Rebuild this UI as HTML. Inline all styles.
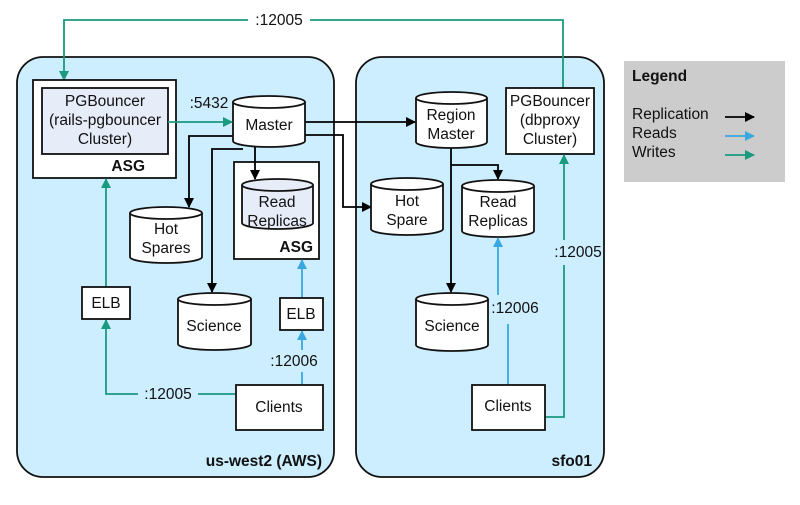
<!DOCTYPE html>
<html><head><meta charset="utf-8"><style>
html,body{margin:0;padding:0;background:#fff;}
svg text{font-family:"Liberation Sans",Arial,sans-serif;font-size:15.5px;fill:#111;}
.b{font-weight:bold;}
</style></head><body>
<svg width="800" height="500" viewBox="0 0 800 500" xmlns="http://www.w3.org/2000/svg">
<defs>
<marker id="ak" markerWidth="10" markerHeight="10" refX="9" refY="5" orient="auto" markerUnits="userSpaceOnUse"><path d="M0,0 L10,5 L0,10 z" fill="#000"/></marker>
<marker id="ag" markerWidth="10" markerHeight="10" refX="9" refY="5" orient="auto" markerUnits="userSpaceOnUse"><path d="M0,0 L10,5 L0,10 z" fill="#1a9a7e"/></marker>
<marker id="ab" markerWidth="10" markerHeight="10" refX="9" refY="5" orient="auto" markerUnits="userSpaceOnUse"><path d="M0,0 L10,5 L0,10 z" fill="#3aa8e0"/></marker>
</defs>
<rect x="17" y="57" width="317" height="420" rx="26" fill="#cdeefe" stroke="#111" stroke-width="1.8"/>
<rect x="356" y="57" width="248" height="420" rx="26" fill="#cdeefe" stroke="#111" stroke-width="1.8"/>
<text x="322" y="466" text-anchor="end" class="b">us-west2 (AWS)</text>
<text x="592" y="466" text-anchor="end" class="b">sfo01</text>

<rect x="624" y="61" width="161" height="121" fill="#cccccc"/>
<text x="632" y="81" class="b">Legend</text>
<text x="632" y="119">Replication</text>
<text x="632" y="138">Reads</text>
<text x="632" y="157">Writes</text>
<line x1="725" y1="117" x2="754" y2="117" stroke="#000" stroke-width="1.8" marker-end="url(#ak)"/>
<line x1="725" y1="136" x2="754" y2="136" stroke="#3aa8e0" stroke-width="1.8" marker-end="url(#ab)"/>
<line x1="725" y1="155" x2="754" y2="155" stroke="#1a9a7e" stroke-width="1.8" marker-end="url(#ag)"/>

<path d="M563,88 V20 H64 V80" fill="none" stroke="#1a9a7e" stroke-width="1.8" marker-end="url(#ag)"/>
<rect x="248" y="11" width="62" height="18" fill="#fff"/>
<text x="279" y="25" text-anchor="middle">:12005</text>

<rect x="33" y="80" width="143" height="98" fill="#fff" stroke="#111" stroke-width="1.8"/>
<rect x="42" y="88" width="126" height="66" fill="#e6ecf8" stroke="#111" stroke-width="1.8"/>
<text x="105" y="106" text-anchor="middle">PGBouncer</text>
<text x="105" y="125" text-anchor="middle">(rails-pgbouncer</text>
<text x="105" y="144" text-anchor="middle">Cluster)</text>
<text x="145" y="171" text-anchor="end" class="b" font-size="16">ASG</text>

<line x1="305" y1="122" x2="415" y2="122" stroke="#000" stroke-width="1.8" marker-end="url(#ak)"/>
<path d="M305,135 H343 V207 H371" fill="none" stroke="#000" stroke-width="1.8" marker-end="url(#ak)"/>
<path d="M233,136 H189 V207" fill="none" stroke="#000" stroke-width="1.8" marker-end="url(#ak)"/>
<path d="M243,149 H212 V292" fill="none" stroke="#000" stroke-width="1.8" marker-end="url(#ak)"/>
<path d="M451,148 V292" fill="none" stroke="#000" stroke-width="1.8" marker-end="url(#ak)"/>
<path d="M451,165 H498 V179" fill="none" stroke="#000" stroke-width="1.8" marker-end="url(#ak)"/>

<rect x="234" y="162" width="85" height="97" fill="#fff" stroke="#111" stroke-width="1.8"/>
<text x="313" y="252" text-anchor="end" class="b" font-size="16">ASG</text>
<line x1="255" y1="147" x2="255" y2="179" stroke="#000" stroke-width="1.8" marker-end="url(#ak)"/>

<g stroke="#111" stroke-width="1.8">
<path d="M233,102 V141 A36,6 0 0 0 305,141 V102" fill="#fff"/><ellipse cx="269" cy="102" rx="36" ry="6" fill="#fff"/>
<path d="M242,185 V223 A35.5,6 0 0 0 313,223 V185" fill="#e6ecf8"/><ellipse cx="277.5" cy="185" rx="35.5" ry="6" fill="#e6ecf8"/>
<path d="M130,213 V257 A36,6 0 0 0 202,257 V213" fill="#fff"/><ellipse cx="166" cy="213" rx="36" ry="6" fill="#fff"/>
<path d="M178,299 V344 A36.5,6 0 0 0 251,344 V299" fill="#fff"/><ellipse cx="214.5" cy="299" rx="36.5" ry="6" fill="#fff"/>
<path d="M416,98 V142 A35.5,6 0 0 0 487,142 V98" fill="#fff"/><ellipse cx="451.5" cy="98" rx="35.5" ry="6" fill="#fff"/>
<path d="M371,184 V229 A36,6 0 0 0 443,229 V184" fill="#fff"/><ellipse cx="407" cy="184" rx="36" ry="6" fill="#fff"/>
<path d="M462,186 V231 A36,6 0 0 0 534,231 V186" fill="#fff"/><ellipse cx="498" cy="186" rx="36" ry="6" fill="#fff"/>
<path d="M416,299 V345 A36,6 0 0 0 488,345 V299" fill="#fff"/><ellipse cx="452" cy="299" rx="36" ry="6" fill="#fff"/>
</g>
<text x="269" y="130" text-anchor="middle">Master</text>
<text x="277" y="207" text-anchor="middle">Read</text>
<text x="277" y="226" text-anchor="middle">Replicas</text>
<text x="166" y="234" text-anchor="middle">Hot</text>
<text x="166" y="253" text-anchor="middle">Spares</text>
<text x="214" y="331" text-anchor="middle">Science</text>
<text x="451" y="120" text-anchor="middle">Region</text>
<text x="451" y="139" text-anchor="middle">Master</text>
<text x="407" y="206" text-anchor="middle">Hot</text>
<text x="407" y="225" text-anchor="middle">Spare</text>
<text x="498" y="207" text-anchor="middle">Read</text>
<text x="498" y="226" text-anchor="middle">Replicas</text>
<text x="452" y="331" text-anchor="middle">Science</text>

<line x1="168" y1="122" x2="232" y2="122" stroke="#1a9a7e" stroke-width="1.8" marker-end="url(#ag)"/>
<text x="209" y="108" text-anchor="middle">:5432</text>

<rect x="506" y="88" width="88" height="66" fill="#fff" stroke="#111" stroke-width="1.8"/>
<text x="550" y="106" text-anchor="middle">PGBouncer</text>
<text x="550" y="125" text-anchor="middle">(dbproxy</text>
<text x="550" y="144" text-anchor="middle">Cluster)</text>

<path d="M236,394 H106 V320" fill="none" stroke="#1a9a7e" stroke-width="1.8" marker-end="url(#ag)"/>
<rect x="138" y="385" width="60" height="18" fill="#cdeefe"/>
<text x="168" y="399" text-anchor="middle">:12005</text>
<line x1="106" y1="287" x2="106" y2="179" stroke="#1a9a7e" stroke-width="1.8" marker-end="url(#ag)"/>
<rect x="82" y="287" width="48" height="32" fill="#fff" stroke="#111" stroke-width="1.8"/>
<text x="106" y="308" text-anchor="middle">ELB</text>

<path d="M302,385 V372" fill="none" stroke="#3aa8e0" stroke-width="1.8"/>
<path d="M302,350 V331" fill="none" stroke="#3aa8e0" stroke-width="1.8" marker-end="url(#ab)"/>
<text x="294" y="366" text-anchor="middle">:12006</text>
<line x1="302" y1="298" x2="302" y2="260" stroke="#3aa8e0" stroke-width="1.8" marker-end="url(#ab)"/>
<rect x="280" y="298" width="43" height="32" fill="#fff" stroke="#111" stroke-width="1.8"/>
<text x="301" y="319" text-anchor="middle">ELB</text>
<rect x="236" y="385" width="87" height="45" fill="#fff" stroke="#111" stroke-width="1.8"/>
<text x="279" y="412" text-anchor="middle">Clients</text>

<path d="M508,385 V324" fill="none" stroke="#3aa8e0" stroke-width="1.8"/>
<path d="M498,295 V238" fill="none" stroke="#3aa8e0" stroke-width="1.8" marker-end="url(#ab)"/>
<text x="515" y="313" text-anchor="middle">:12006</text>
<path d="M545,417 H564 V265" fill="none" stroke="#1a9a7e" stroke-width="1.8"/>
<path d="M564,240 V155" fill="none" stroke="#1a9a7e" stroke-width="1.8" marker-end="url(#ag)"/>
<text x="578" y="257" text-anchor="middle">:12005</text>
<rect x="472" y="385" width="73" height="45" fill="#fff" stroke="#111" stroke-width="1.8"/>
<text x="508" y="411" text-anchor="middle">Clients</text>
</svg>
</body></html>
